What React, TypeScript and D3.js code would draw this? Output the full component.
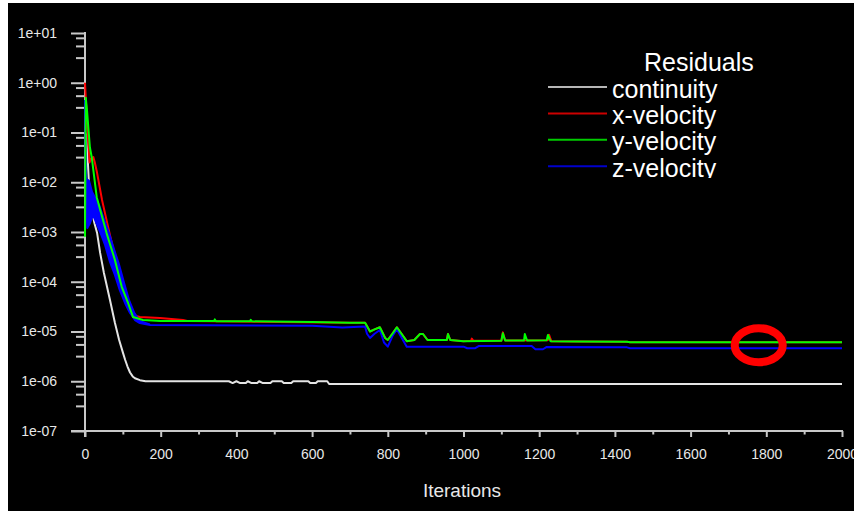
import * as d3 from 'd3';
import { useEffect, useRef } from 'react';

const W = 854, H = 511;

const xMajorTicks = [0, 200, 400, 600, 800, 1000, 1200, 1400, 1600, 1800, 2000];
const xMinorTicks = [100, 300, 500, 700, 900, 1100, 1300, 1500, 1700, 1900];
const yMajorTicks = [1e1, 1e0, 1e-1, 1e-2, 1e-3, 1e-4, 1e-5, 1e-6, 1e-7];
const yTickLabels = ['1e+01', '1e+00', '1e-01', '1e-02', '1e-03', '1e-04', '1e-05', '1e-06', '1e-07'];
const yMinorSteps = [0.8, 0.55, 0.32];

const seriesNames = ['continuity', 'x-velocity', 'y-velocity', 'z-velocity'];
const seriesColors = ['#e4e4e4', '#ff0000', '#00ff00', '#0000ff'];

// [iteration, residual]
const continuity: [number, number][] = [
  [0, 0.1], [3, 0.09], [8, 2.2e-2], [10, 1.1e-2], [14, 5e-3], [18, 2.8e-3], [25, 1.5e-3],
  [32, 9.5e-4], [40, 3.8e-4], [50, 1.5e-4], [58, 8e-5], [66, 4.3e-5], [79, 1.5e-5],
  [90, 6.8e-6], [100, 3.8e-6], [106, 2.7e-6], [112, 2e-6], [119, 1.5e-6], [126, 1.25e-6],
  [132, 1.15e-6], [145, 1.05e-6], [160, 1.0e-6], [380, 1.0e-6], [390, 9.2e-7], [400, 1e-6],
  [410, 9.2e-7], [425, 9.2e-7], [430, 1e-6], [440, 9.2e-7], [455, 9.2e-7], [460, 1e-6],
  [470, 9.2e-7], [490, 9.2e-7], [495, 1e-6], [520, 1e-6], [525, 9.2e-7], [545, 9.2e-7],
  [550, 1e-6], [590, 1e-6], [595, 9.2e-7], [610, 9.2e-7], [615, 1e-6], [640, 1e-6],
  [645, 8.8e-7], [2000, 8.8e-7],
];

const xVelocity: [number, number][] = [
  [0, 1.0], [3, 0.35], [6, 0.12], [9, 0.06], [12, 0.025], [16, 0.03], [22, 0.032], [26, 0.025],
  [32, 1.53e-2], [45, 4.4e-3], [61, 1.26e-3], [77, 3.8e-4], [92, 1.08e-4], [108, 4.3e-5],
  [122, 2.7e-5], [135, 2.05e-5], [145, 1.95e-5], [198, 1.86e-5], [259, 1.7e-5], [270, 1.62e-5],
  [700, 1.5e-5], [740, 1.5e-5], [753, 1.0e-5], [765, 1.1e-5], [779, 1.22e-5], [793, 7.4e-6],
  [800, 6.75e-6], [812, 9e-6], [824, 1.22e-5], [850, 6.4e-6], [870, 6.75e-6], [885, 8.9e-6],
  [893, 8.9e-6], [905, 6.75e-6], [956, 6.75e-6], [959, 8.9e-6], [965, 6.75e-6],
  [1000, 6.4e-6], [1020, 6.5e-6], [1022, 7.2e-6], [1026, 6.5e-6], [1100, 6.5e-6],
  [1104, 9.6e-6], [1110, 6.6e-6], [1223, 6.7e-6], [1226, 8.6e-6], [1232, 6.4e-6],
  [1300, 6.3e-6], [1432, 6.2e-6], [1440, 6.07e-6], [2000, 6.07e-6],
];

const yVelocity: [number, number][] = [
  [0, 8e-4], [1, 1.5e-2], [2, 0.5], [5, 0.3], [9, 0.12], [13, 0.05], [18, 0.031], [31, 5e-3],
  [57, 9.5e-4], [79, 2.75e-4], [97, 7.9e-5], [114, 3.7e-5], [127, 1.95e-5], [153, 1.7e-5],
  [200, 1.62e-5], [341, 1.62e-5], [343, 1.75e-5], [346, 1.6e-5], [436, 1.6e-5], [438, 1.72e-5],
  [441, 1.6e-5], [600, 1.55e-5], [700, 1.5e-5], [740, 1.5e-5], [753, 1.0e-5], [765, 1.1e-5],
  [779, 1.22e-5], [793, 7.4e-6], [800, 6.75e-6], [812, 9e-6], [824, 1.22e-5], [850, 6.4e-6],
  [870, 6.75e-6], [885, 8.9e-6], [893, 8.9e-6], [905, 6.75e-6], [956, 6.75e-6], [959, 8.9e-6],
  [965, 6.75e-6], [1000, 6.4e-6], [1100, 6.5e-6], [1104, 9.2e-6], [1110, 6.6e-6],
  [1160, 6.6e-6], [1162, 8.9e-6], [1168, 6.6e-6], [1220, 6.7e-6], [1223, 8.5e-6],
  [1230, 6.4e-6], [1300, 6.3e-6], [1432, 6.2e-6], [1440, 6.07e-6], [2000, 6.07e-6],
];

const zVelocity: [number, number][] = [
  [0, 0.45], [2, 0.012], [6, 1.2e-3], [13, 1.5e-3], [21, 2.2e-3], [40, 1.0e-3], [53, 5.5e-4],
  [66, 2.5e-4], [79, 1.37e-4], [92, 6.8e-5], [106, 3.7e-5], [119, 2.35e-5], [132, 1.7e-5],
  [145, 1.48e-5], [172, 1.35e-5], [600, 1.3e-5], [680, 1.2e-5], [740, 1.26e-5], [745, 9e-6],
  [753, 7.4e-6], [765, 9e-6], [779, 1.07e-5], [790, 6e-6], [800, 4.95e-6], [812, 8e-6],
  [824, 1.11e-5], [850, 4.95e-6], [1000, 4.95e-6], [1010, 4.6e-6], [1030, 4.6e-6],
  [1040, 5.1e-6], [1180, 5.1e-6], [1190, 4.4e-6], [1210, 4.4e-6], [1220, 4.9e-6],
  [1432, 4.8e-6], [1440, 4.6e-6], [2000, 4.6e-6],
];

// envelope of the fast oscillation of z-velocity early on: [iteration, low, high]
const zVelocityBand: [number, number, number][] = [
  [0, 0.012, 0.45], [6, 1.2e-3, 0.012], [13, 1.5e-3, 1.1e-2], [21, 2.2e-3, 6.5e-3],
  [40, 1.0e-3, 3.5e-3], [53, 5.5e-4, 1.8e-3], [66, 2.5e-4, 9.5e-4], [79, 1.37e-4, 4.6e-4],
  [92, 6.8e-5, 2.3e-4], [106, 3.7e-5, 9.4e-5], [119, 2.35e-5, 4.3e-5], [132, 1.7e-5, 2.47e-5],
  [145, 1.48e-5, 1.7e-5], [172, 1.35e-5, 1.45e-5],
];

// marked spot
const markIter = 1780, markValue = 5.3e-6;

const App = () => {
  const svgRef = useRef<SVGSVGElement>(null);

  useEffect(() => {
    const svg = d3.select(svgRef.current);
    svg.selectAll('*').remove();

    const x = d3.scaleLinear().domain([0, 2000]).range([85, 842]);
    const y = d3.scaleLog().domain([1e-7, 10]).range([431, 33]);
    const font = '"Liberation Sans", Arial, sans-serif';
    const axisColor = '#c8c8c8';

    svg.append('rect').attr('width', W).attr('height', H).attr('fill', '#ffffff');
    svg.append('rect').attr('x', 8).attr('y', 3).attr('width', W - 8).attr('height', H - 3).attr('fill', '#000000');

    // y axis
    const yMinor = yMajorTicks.slice(0, -1).flatMap(t => yMinorSteps.map(s => t * s));
    const gy = svg.append('g').attr('transform', 'translate(85,0)');
    gy.call(d3.axisLeft(y).tickValues(yMajorTicks).tickSize(14).tickSizeOuter(0).tickPadding(14)
      .tickFormat((_d, i) => yTickLabels[i]));
    const gyMinor = svg.append('g').attr('transform', 'translate(85,0)');
    gyMinor.call(d3.axisLeft(y).tickValues(yMinor).tickSize(9).tickSizeOuter(0).tickFormat(() => ''));

    // x axis
    const gx = svg.append('g').attr('transform', 'translate(0,431)');
    gx.call(d3.axisBottom(x).tickValues(xMajorTicks).tickSize(6).tickSizeOuter(0).tickPadding(12)
      .tickFormat(d3.format('d')));
    const gxMinor = svg.append('g').attr('transform', 'translate(0,431)');
    gxMinor.call(d3.axisBottom(x).tickValues(xMinorTicks).tickSize(3.5).tickSizeOuter(0).tickFormat(() => ''));

    [gy, gyMinor, gx, gxMinor].forEach(g => {
      g.select('.domain').remove();
      g.selectAll('line').attr('stroke', axisColor).attr('stroke-width', 2);
      g.selectAll('text').attr('fill', '#e8e8e8').style('font-family', font).style('font-size', '14px');
    });
    svg.append('line').attr('x1', 85).attr('x2', 85).attr('y1', 32).attr('y2', 437)
      .attr('stroke', axisColor).attr('stroke-width', 2);
    svg.append('line').attr('x1', 71).attr('x2', 843).attr('y1', 431).attr('y2', 431)
      .attr('stroke', axisColor).attr('stroke-width', 2);

    svg.append('text').attr('x', 462).attr('y', 497).attr('text-anchor', 'middle')
      .attr('fill', '#e8e8e8').style('font-family', font).style('font-size', '19px').text('Iterations');

    // residual curves
    const line = d3.line<[number, number]>().x(d => x(d[0])).y(d => y(d[1]));
    const band = d3.area<[number, number, number]>().x(d => x(d[0])).y0(d => y(d[1])).y1(d => y(d[2]));
    const plot = svg.append('g');
    const drawLine = (data: [number, number][], color: string) =>
      plot.append('path').attr('d', line(data)).attr('fill', 'none').attr('stroke', color)
        .attr('stroke-width', 2).attr('stroke-linejoin', 'round');

    drawLine(continuity, seriesColors[0]);
    drawLine(xVelocity, seriesColors[1]);
    plot.append('path').attr('d', band(zVelocityBand)).attr('fill', seriesColors[3]);
    drawLine(zVelocity, seriesColors[3]);
    drawLine(yVelocity, seriesColors[2]);

    // legend
    svg.append('defs').append('clipPath').attr('id', 'legclip')
      .append('rect').attr('x', 530).attr('y', 30).attr('width', 300).attr('height', 148);
    const leg = svg.append('g').attr('clip-path', 'url(#legclip)');
    leg.append('text').attr('x', 644).attr('y', 71).attr('fill', '#ffffff')
      .style('font-family', font).style('font-size', '25px').text('Residuals');
    seriesNames.forEach((name, i) => {
      const ly = 87 + i * 26.4;
      leg.append('line').attr('x1', 548).attr('x2', 607).attr('y1', ly).attr('y2', ly)
        .attr('stroke', seriesColors[i]).attr('stroke-width', 2).attr('opacity', 0.8);
      leg.append('text').attr('x', 612).attr('y', ly + 10.5).attr('fill', '#ffffff')
        .style('font-family', font).style('font-size', '25px').text(name);
    });

    // red ring
    svg.append('ellipse').attr('cx', x(markIter)).attr('cy', y(markValue)).attr('rx', 24).attr('ry', 17)
      .attr('fill', 'none').attr('stroke', '#ff0000').attr('stroke-width', 8);
  }, []);

  return <svg ref={svgRef} width={W} height={H} style={{ position: 'absolute', left: 0, top: 0 }}></svg>;
};

export default App;
